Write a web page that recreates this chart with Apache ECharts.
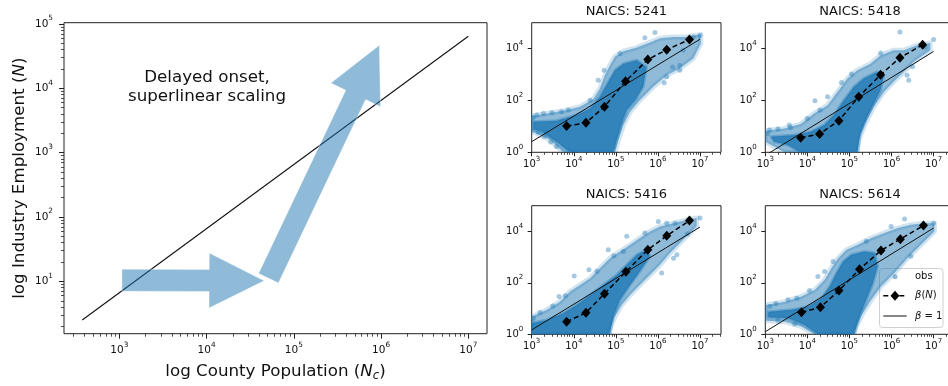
<!DOCTYPE html>
<html><head><meta charset="utf-8">
<script src="https://cdn.jsdelivr.net/npm/echarts@6/dist/echarts.min.js"></script>
<style>html,body{margin:0;padding:0;background:#fff;}#c{width:948px;height:386px;}</style>
</head><body><div id="c"></div>
<script>
// ===== DATA (all values are log10 values) =====
// Left schematic panel
const schemLineLogX = [2.575, 7.0];
const schemLineLogY = [0.40, 4.81];
const arrowFlatLog = [[3.03, 1.02], [4.66, 1.01]];   // tail, tip
const arrowRiseLog = [[4.71, 1.05], [5.98, 4.67]];   // tail, tip
const annotationLines = ['Delayed onset,', 'superlinear scaling'];
const xLabelLeft = 'log County Population ({i|N}{s|c})';
const yLabelLeft = 'log Industry Employment ({i|N})';

// Tick exponents
const xMajorExp = [3, 4, 5, 6, 7];
const yMajorExpLeft = [1, 2, 3, 4, 5];
const yMajorExpPanel = [0, 2, 4];

// Small panels
const panelTitles = ['NAICS: 5241', 'NAICS: 5418', 'NAICS: 5416', 'NAICS: 5614'];
const unitLineLogX = [3, 7];

const p5241BetaLogX = [3.83, 4.29, 4.73, 5.23, 5.76, 6.21, 6.75];
const p5241BetaLogY = [1.01, 1.14, 1.76, 2.74, 3.58, 3.96, 4.35];
const p5241UnitLogY = [0.41, 4.36];
const p5241Halo = [[3.00,1.40],[3.36,1.50],[3.75,1.60],[4.15,1.76],[4.47,2.06],[4.62,2.46],[4.74,2.97],[4.86,3.36],[4.98,3.70],[5.18,3.90],[5.50,4.04],[5.81,4.24],[6.05,4.40],[6.37,4.45],[6.68,4.45],[7.02,4.55],[7.02,4.19],[6.84,3.62],[6.52,3.23],[6.21,2.97],[5.89,2.53],[5.57,2.01],[5.34,1.56],[5.18,1.05],[5.06,0.47],[4.98,0],[3.75,0],[3.44,0.47],[3.12,0.73],[3.00,0.78]];
const p5241Core = [[3.04,1.18],[3.59,1.22],[4.07,1.44],[4.39,1.69],[4.62,2.14],[4.82,2.72],[4.98,3.17],[5.18,3.42],[5.50,3.55],[5.73,3.29],[5.65,2.53],[5.46,2.01],[5.26,1.63],[5.14,1.12],[5.02,0.47],[4.94,0],[3.91,0],[3.59,0.41],[3.20,0.83],[3.04,0.88]];
const p5241Outliers = [[5.93,4.62],[7.00,4.51],[6.15,2.68],[6.35,3.29],[6.52,3.36],[4.58,2.78],[4.72,3.17],[5.69,4.42],[3.04,1.35],[3.16,0.76],[3.59,0.22],[4.39,2.01],[5.10,3.81],[6.84,4.45],[6.60,3.94],[3.12,1.44],[3.28,1.50],[3.48,1.53],[3.71,1.56],[3.87,1.63],[6.21,2.91],[6.52,3.17],[3.30,0.62],[3.45,0.40]];

const p5418BetaLogX = [3.84, 4.29, 4.75, 5.22, 5.74, 6.20, 6.74];
const p5418BetaLogY = [0.56, 0.71, 1.22, 2.14, 2.99, 3.65, 4.15];
const p5418UnitLogY = [-0.12, 3.89];
const p5418Halo = [[3.00,0.83],[3.45,0.92],[3.84,1.09],[4.16,1.50],[4.48,1.82],[4.75,2.40],[4.95,2.85],[5.19,3.17],[5.50,3.42],[5.74,3.74],[6.05,3.94],[6.29,3.94],[6.61,4.13],[6.92,4.22],[6.92,3.94],[6.53,3.49],[6.29,3.10],[6.05,2.72],[5.82,2.33],[5.58,1.76],[5.38,1.12],[5.22,0.47],[5.19,0],[3.45,0],[3.21,0.22],[3.00,0.41]];
const p5418Core = [[3.13,0.60],[3.69,0.67],[4.08,0.79],[4.40,1.05],[4.63,1.44],[4.87,2.01],[5.11,2.53],[5.34,2.85],[5.66,3.10],[5.82,2.97],[5.74,2.40],[5.58,1.88],[5.42,1.37],[5.26,0.73],[5.19,0],[3.84,0],[3.53,0.28],[3.21,0.41]];
const p5418Outliers = [[6.20,4.64],[7.00,4.35],[4.18,1.99],[4.81,2.69],[5.74,3.83],[6.37,2.97],[6.41,2.78],[3.06,0.73],[3.57,1.05],[4.48,2.14],[3.10,0.86],[3.30,0.90],[3.60,0.95],[4.00,1.30],[4.30,1.62],[5.05,3.02],[6.50,3.30],[6.80,4.05]];

const p5416BetaLogX = [3.83, 4.29, 4.73, 5.24, 5.76, 6.21, 6.75];
const p5416BetaLogY = [0.49, 0.84, 1.58, 2.43, 3.29, 3.83, 4.42];
const p5416UnitLogY = [0.17, 4.17];
const p5416Halo = [[3.00,0.69],[3.36,0.95],[3.67,1.27],[3.91,1.66],[4.15,1.92],[4.39,2.18],[4.62,2.57],[4.86,2.96],[5.10,3.22],[5.34,3.48],[5.57,3.74],[5.81,4.00],[6.05,4.19],[6.37,4.32],[6.76,4.48],[6.92,4.52],[6.92,4.19],[6.60,3.68],[6.29,3.16],[6.05,2.70],[5.81,2.31],[5.57,1.92],[5.34,1.53],[5.14,1.14],[4.98,0.69],[4.86,0.23],[4.82,0],[3.00,0]];
const p5416Core = [[3.00,0.43],[3.36,0.56],[3.75,0.82],[4.07,1.14],[4.39,1.53],[4.70,1.92],[5.02,2.31],[5.26,2.70],[5.50,3.09],[5.73,3.29],[5.81,3.03],[5.57,2.44],[5.34,1.92],[5.10,1.34],[4.94,0.69],[4.86,0],[3.00,0]];
const p5416Outliers = [[4.01,2.27],[4.36,2.51],[3.65,1.47],[4.82,3.29],[5.18,3.22],[5.26,3.81],[5.69,3.94],[6.01,4.39],[6.21,4.32],[6.41,4.32],[7.00,4.52],[6.45,3.09],[6.37,2.96],[6.09,2.38],[3.04,0.62],[3.20,0.85],[3.50,1.10],[3.80,1.50],[4.55,2.45],[4.95,3.05],[6.70,3.90]];

const p5614BetaLogX = [3.86, 4.31, 4.75, 5.24, 5.75, 6.21, 6.76];
const p5614BetaLogY = [0.86, 1.05, 1.70, 2.53, 3.26, 3.70, 4.23];
const p5614UnitLogY = [0.10, 4.13];
const p5614Halo = [[3.00,1.14],[3.47,1.27],[3.86,1.47],[4.18,1.73],[4.41,2.12],[4.57,2.57],[4.73,2.96],[4.93,3.29],[5.20,3.48],[5.52,3.74],[5.83,3.94],[6.15,4.13],[6.46,4.26],[6.78,4.32],[7.02,4.32],[7.02,4.00],[6.70,3.48],[6.38,2.96],[6.07,2.38],[5.75,1.86],[5.52,1.34],[5.32,0.82],[5.16,0.30],[5.08,0],[4.17,0],[3.86,0.30],[3.47,0.49],[3.00,0.53]];
const p5614Core = [[3.07,0.88],[3.62,0.95],[4.02,1.08],[4.33,1.40],[4.53,1.86],[4.69,2.38],[4.85,2.83],[5.04,3.09],[5.36,3.22],[5.60,3.16],[5.67,2.64],[5.56,1.99],[5.40,1.34],[5.24,0.69],[5.12,0],[4.25,0],[3.94,0.36],[3.54,0.62],[3.07,0.66]];
const p5614Outliers = [[6.31,4.48],[7.00,4.32],[3.11,1.08],[3.54,1.34],[4.25,2.25],[4.41,2.44],[4.61,2.83],[5.99,4.19],[6.46,3.03],[3.25,1.20],[3.75,1.40],[4.05,1.70],[3.30,0.55],[3.70,0.40],[6.80,4.25],[5.40,3.62]];

const legendLabels = ['obs', '{i|β}({i|N})', '{i|β} = 1'];

// ===== CHART =====
const FONT = 'DejaVu Sans';
const TXT = '#111';
const BLUE = 'rgba(31,119,180,';

const panels = [
  {beta:[p5241BetaLogX,p5241BetaLogY], unit:p5241UnitLogY, halo:p5241Halo, core:p5241Core, out:p5241Outliers},
  {beta:[p5418BetaLogX,p5418BetaLogY], unit:p5418UnitLogY, halo:p5418Halo, core:p5418Core, out:p5418Outliers},
  {beta:[p5416BetaLogX,p5416BetaLogY], unit:p5416UnitLogY, halo:p5416Halo, core:p5416Core, out:p5416Outliers},
  {beta:[p5614BetaLogX,p5614BetaLogY], unit:p5614UnitLogY, halo:p5614Halo, core:p5614Core, out:p5614Outliers}
];

const grids = [
  {left:64, top:22.7, width:423, height:311},
  {left:531.7, top:22.7, width:189.3, height:129.6},
  {left:765.3, top:22.7, width:189.3, height:129.6},
  {left:531.7, top:205.7, width:189.3, height:128.6},
  {left:765.3, top:205.7, width:189.3, height:128.6}
].map(g => Object.assign({show:true, borderColor:'#222', borderWidth:1, backgroundColor:'transparent', containLabel:false, outerBoundsMode:'none'}, g));

const xRange = [[2.366, 7.214],[3,7.5],[3,7.5],[3,7.5],[3,7.5]];
const yRange = [[0.188, 5.02],[0,5],[0,5],[0,5],[0,5]];

function minorList(lo, hi) {
  const out = [];
  for (let e = Math.floor(lo); e <= Math.ceil(hi); e++)
    for (let k = 2; k <= 9; k++) { const v = e + Math.log10(k); if (v > lo && v < hi) out.push(v); }
  return out;
}
const powFmt = v => '{b|10}{p|' + Math.round(v) + '}';
function richPow(fs) {
  return { b:{fontSize:fs, lineHeight:18, fontFamily:FONT, color:TXT},
           p:{fontSize:fs*0.7, lineHeight:8, verticalAlign:'top', fontFamily:FONT, color:TXT} };
}

const xAxes = [], yAxes = [];
grids.forEach((g, i) => {
  const big = i === 0;
  const fs = big ? 10.5 : 10;
  const major = {
    type:'value', gridIndex:i, min:xRange[i][0], max:xRange[i][1], position:'bottom',
    axisLine:{show:false, onZero:false}, splitLine:{show:false},
    axisTick:{show:true, customValues:xMajorExp, length:big?5:4, lineStyle:{color:'#222', width:1}},
    axisLabel:{customValues:xMajorExp, formatter:powFmt, margin:big?8:3, rich:richPow(fs), color:TXT}
  };
  if (big) {
    major.name = xLabelLeft; major.nameLocation = 'middle'; major.nameGap = 28;
    major.nameTextStyle = {fontFamily:FONT, fontSize:16.7, color:TXT, lineHeight:20,
      rich:{i:{fontStyle:'italic', fontSize:16.7, fontFamily:FONT, color:TXT, lineHeight:20},
            s:{fontStyle:'italic', fontSize:11.7, fontFamily:FONT, color:TXT, lineHeight:10, verticalAlign:'bottom'}}};
  }
  xAxes.push(major);
  xAxes.push({type:'value', gridIndex:i, min:xRange[i][0], max:xRange[i][1], position:'bottom',
    axisLine:{show:false, onZero:false}, splitLine:{show:false}, axisLabel:{show:false},
    axisTick:{show:true, customValues:minorList(xRange[i][0], xRange[i][1]), length:big?3:2.5, lineStyle:{color:'#222', width:0.8}}});

  const yMaj = big ? yMajorExpLeft : yMajorExpPanel;
  const ymajor = {
    type:'value', gridIndex:i, min:yRange[i][0], max:yRange[i][1], position:'left',
    axisLine:{show:false, onZero:false}, splitLine:{show:false},
    axisTick:{show:true, customValues:yMaj, length:big?5:4, lineStyle:{color:'#222', width:1}},
    axisLabel:{customValues:yMaj, formatter:powFmt, margin:big?11:8.5, rich:richPow(fs), color:TXT}
  };
  if (big) {
    ymajor.name = yLabelLeft; ymajor.nameLocation = 'middle'; ymajor.nameGap = 34;
    ymajor.nameTextStyle = {fontFamily:FONT, fontSize:16.7, color:TXT, lineHeight:20,
      rich:{i:{fontStyle:'italic', fontSize:16.7, fontFamily:FONT, color:TXT, lineHeight:20}}};
  }
  yAxes.push(ymajor);
  yAxes.push({type:'value', gridIndex:i, min:yRange[i][0], max:yRange[i][1], position:'left',
    axisLine:{show:false, onZero:false}, splitLine:{show:false}, axisLabel:{show:false},
    axisTick:{show:big, customValues:big?minorList(yRange[i][0], yRange[i][1]):[], length:3, lineStyle:{color:'#222', width:0.8}}});
});

const series = [];
// left panel
series.push({type:'line', xAxisIndex:0, yAxisIndex:0, data:schemLineLogX.map((x,k)=>[x, schemLineLogY[k]]),
  symbol:'none', lineStyle:{color:'#111', width:1.1}, z:3, silent:true, animation:false});

function arrowPts(p0, p1, hw, headHW, headLen) {
  const dx=p1[0]-p0[0], dy=p1[1]-p0[1], L=Math.hypot(dx,dy), ux=dx/L, uy=dy/L, nx=-uy, ny=ux;
  const bx=p1[0]-ux*headLen, by=p1[1]-uy*headLen;
  return [[p0[0]+nx*hw,p0[1]+ny*hw],[bx+nx*hw,by+ny*hw],[bx+nx*headHW,by+ny*headHW],[p1[0],p1[1]],
          [bx-nx*headHW,by-ny*headHW],[bx-nx*hw,by-ny*hw],[p0[0]-nx*hw,p0[1]-ny*hw]];
}
series.push({type:'custom', xAxisIndex:0, yAxisIndex:0, data:[arrowFlatLog, arrowRiseLog].map(a=>[a[0][0],a[0][1],a[1][0],a[1][1]]),
  silent:true, z:4, animation:false,
  renderItem:(params, api) => {
    const p0 = api.coord([api.value(0), api.value(1)]), p1 = api.coord([api.value(2), api.value(3)]);
    return {type:'polygon', shape:{points:arrowPts(p0,p1,11,27.5,55)}, style:{fill:BLUE+'0.5)', stroke:'rgba(255,255,255,0.6)', lineWidth:0.6}};
  }});

function polySeries(gi, pts, fill, edge, edgeW, z) {
  return {type:'custom', xAxisIndex:2*gi, yAxisIndex:2*gi, data:pts, silent:true, z, animation:false, clip:true,
    renderItem:(params, api) => {
      if (params.dataIndex !== 0) return null;
      return {type:'polygon', shape:{points:pts.map(p=>api.coord(p))},
        style:{fill, stroke:edge, lineWidth:edgeW, lineJoin:'round'}};
    }};
}
panels.forEach((p, k) => {
  const gi = k + 1;
  series.push(polySeries(gi, p.halo, BLUE+'0.5)', BLUE+'0.2)', 5, 1));
  series.push(polySeries(gi, p.core, BLUE+'0.82)', BLUE+'0.35)', 3, 1));
  series.push({type:'scatter', xAxisIndex:2*gi, yAxisIndex:2*gi, data:p.out, symbolSize:5,
    itemStyle:{color:BLUE+'0.5)'}, z:2, silent:true, animation:false});
  series.push({type:'line', xAxisIndex:2*gi, yAxisIndex:2*gi, data:unitLineLogX.map((x,j)=>[x, p.unit[j]]),
    symbol:'none', lineStyle:{color:'#111', width:1}, z:3, silent:true, animation:false, clip:true});
  series.push({type:'line', xAxisIndex:2*gi, yAxisIndex:2*gi, data:p.beta[0].map((x,j)=>[x, p.beta[1][j]]),
    symbol:'diamond', symbolSize:[9,10], itemStyle:{color:'#000'}, lineStyle:{color:'#000', width:1.5, type:[5,3]},
    z:4, silent:true, animation:false});
});

const titleCenters = [[626.4, 11.7],[860, 11.7],[626.4, 194.7],[860, 194.7]];
const graphics = [];
panelTitles.forEach((t,k)=>graphics.push({type:'text', z:50, x:titleCenters[k][0], y:titleCenters[k][1],
  style:{text:t, font:'13px "'+FONT+'"', fill:TXT, align:'center', verticalAlign:'middle', textAlign:'center', textVerticalAlign:'middle'}}));
graphics.push({type:'text', z:50, x:207, y:87, style:{text:annotationLines.join('\n'), font:'16.7px "'+FONT+'"', fill:TXT,
  align:'center', verticalAlign:'middle', textAlign:'center', textVerticalAlign:'middle', lineHeight:19.5}});

// legend box for last panel
const lg = {x:879.5, y:268.5, w:63.5, h:59};
const rowY = [276.7, 295.7, 316];
graphics.push({type:'group', z:60, children:[
  {type:'rect', shape:{x:lg.x, y:lg.y, width:lg.w, height:lg.h, r:3}, style:{fill:'rgba(255,255,255,0.8)', stroke:'#d0d0d0', lineWidth:1}},
  {type:'circle', shape:{cx:895, cy:rowY[0], r:2.5}, style:{fill:BLUE+'0.5)'}},
  {type:'line', shape:{x1:883.3, y1:rowY[1], x2:906.7, y2:rowY[1]}, style:{stroke:'#000', lineWidth:1.5, lineDash:[5,3]}},
  {type:'polygon', shape:{points:[[895,rowY[1]-5],[899.5,rowY[1]],[895,rowY[1]+5],[890.5,rowY[1]]]}, style:{fill:'#000'}},
  {type:'line', shape:{x1:883.3, y1:rowY[2], x2:906.7, y2:rowY[2]}, style:{stroke:'#111', lineWidth:1}},
  ...legendLabels.map((t,k)=>({type:'text', x:915, y:rowY[k], style:{text:t, font:'10px "'+FONT+'"', fill:TXT,
    align:'left', verticalAlign:'middle', textAlign:'left', textVerticalAlign:'middle',
    rich:{i:{fontStyle:'italic', fontSize:10, fontFamily:FONT, fill:TXT, color:TXT}}}}))
]});

const chart = echarts.init(document.getElementById('c'), null, {renderer:'canvas', width:948, height:386});
chart.setOption({
  animation:false, backgroundColor:'#fff',
  textStyle:{fontFamily:FONT},
  grid:grids, xAxis:xAxes, yAxis:yAxes, series, graphic:graphics
});
</script></body></html>
